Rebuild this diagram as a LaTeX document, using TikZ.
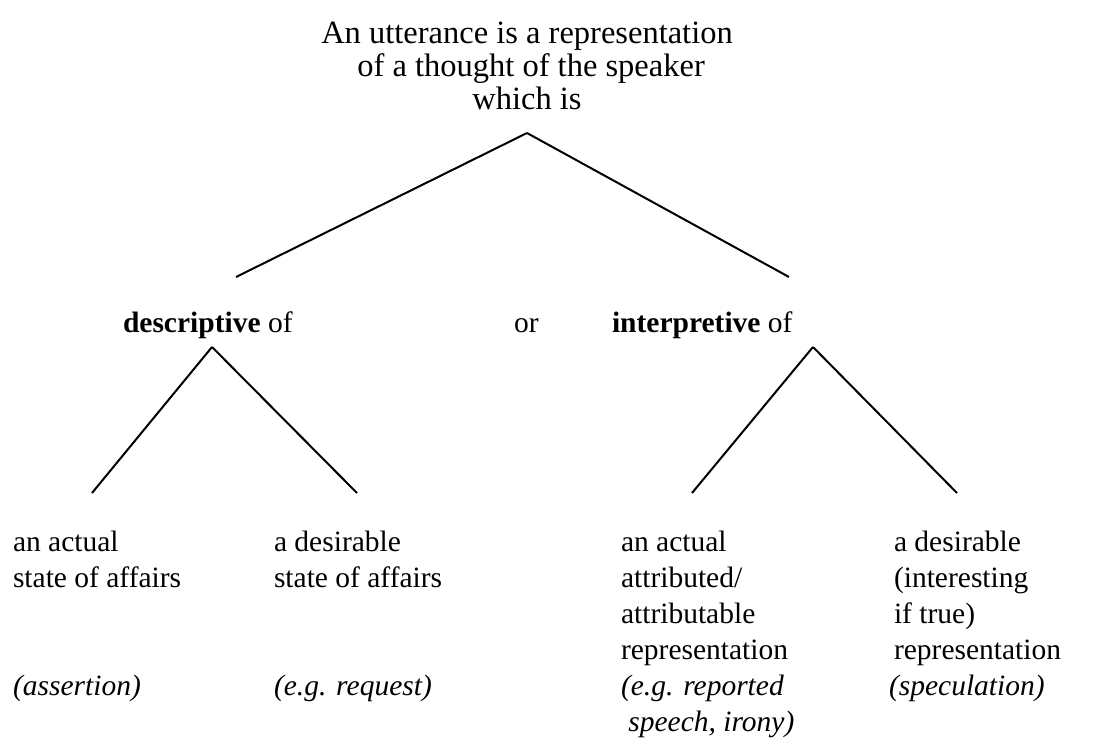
\documentclass[tikz,border=0pt]{standalone}
\usepackage{fontspec}
\setmainfont{Liberation Serif}
\begin{document}
\begin{tikzpicture}[x=0.4pt,y=-0.4pt,line width=0.8pt,
  every node/.style={inner sep=0pt,font=\fontsize{11.8}{14.4}\selectfont},
  leaf/.style={anchor=north west,align=left},
  word/.style={anchor=base west}]
\useasboundingbox (0,0) rectangle (1094,740);
            \coordinate (top) at (527,133);
            \coordinate (dleft) at (236,277);
            \coordinate (iright) at (789,277);
            \coordinate (desc) at (212,347);
            \coordinate (interp) at (813,347);
            \coordinate (da) at (92,493);
            \coordinate (db) at (357,493);
            \coordinate (ia) at (692,493);
            \coordinate (ib) at (957,493);
            \draw (top) --(dleft);
            \draw (top) --(iright);
            \draw (desc) --(da);
            \draw (desc) --(db);
            \draw (interp) --(ia);
            \draw (interp) --(ib);
            \node (title) [anchor=north,align=center,font=\fontsize{13}{13.2}\selectfont] at(527,19)
              {\strut An utterance is a representation\\ \ of a thought of the speaker\\which is};
            \node (d) [word] at(122,332) {\textbf{descriptive} of};
            \node (or) [word] at(513,332) {or};
            \node (i) [word] at(611,332) {\textbf{interpretive} of};
            \node (dactual) [leaf] at(12,525) {\strut an actual\\state of affairs};
            \node (ddesire) [leaf] at(273,525) {\strut a desirable\\state of affairs};
            \node (assert) [word] at(12,695) {\textit{(assertion)}};
            \node (request) [word] at(273,695) {\textit{(e.g. request)}};
            \node (iactual) [leaf] at(620,525) {\strut an actual\\attributed/\\attributable\\representation\\
              \textit{(e.g. reported}\\\textit{\ speech, irony)}};
            \node (idesire) [leaf] at(893,525) {\strut a desirable\\(interesting\\if true)\\representation};
            \node (spec) [word] at(888,695) {\textit{(speculation)}};
        \end{tikzpicture}
\end{document}
